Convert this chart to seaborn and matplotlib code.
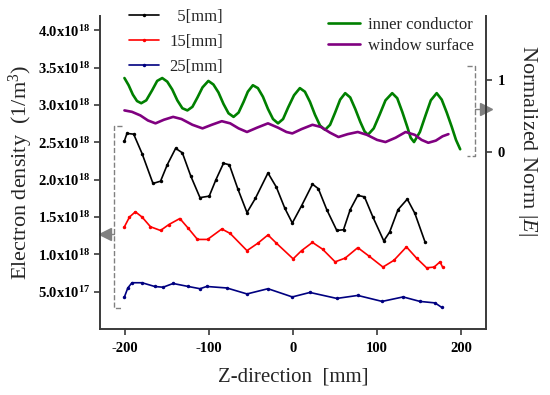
"""
Electron density and normalized |E| along the Z-direction.
"""

import matplotlib

matplotlib.use("Agg")
import matplotlib.pyplot as plt
import numpy as np
import pandas as pd
import seaborn as sns

# ---- data ----
# electron density, in units of 1e18 1/m^3
z_5mm = [-201, -198, -190, -180, -167, -158, -150, -140, -132, -122, -111, -100,
         -92, -83, -76, -66, -55, -45, -30, -20, -10, -1, 10, 23, 30, 40, 52, 60,
         68, 77, 85, 95, 108, 115, 125, 136, 145, 157]
ne_5mm = [2.52, 2.62, 2.61, 2.35, 1.95, 1.98, 2.20, 2.42, 2.36, 2.05, 1.76, 1.78,
          2.00, 2.22, 2.20, 1.88, 1.56, 1.75, 2.09, 1.90, 1.62, 1.42, 1.65, 1.94,
          1.88, 1.60, 1.32, 1.33, 1.60, 1.79, 1.77, 1.50, 1.18, 1.30, 1.60, 1.74,
          1.55, 1.17]

z_15mm = [-201, -195, -188, -180, -170, -158, -148, -135, -125, -114, -102, -85,
          -75, -55, -42, -30, -20, 0, 10, 23, 35, 50, 62, 77, 90, 107, 120, 135,
          147, 159, 168, 175, 178]
ne_15mm = [1.37, 1.50, 1.57, 1.50, 1.37, 1.32, 1.40, 1.48, 1.35, 1.20, 1.20, 1.34,
           1.28, 1.05, 1.15, 1.26, 1.15, 0.94, 1.05, 1.16, 1.07, 0.90, 0.95, 1.09,
           0.98, 0.83, 0.92, 1.10, 0.95, 0.82, 0.83, 0.90, 0.83]

z_25mm = [-201, -197, -192, -180, -165, -155, -143, -125, -111, -103, -79, -55,
          -30, -1, 20, 52, 77, 106, 131, 151, 169, 177]
ne_25mm = [0.43, 0.55, 0.62, 0.62, 0.57, 0.56, 0.61, 0.57, 0.54, 0.57, 0.55, 0.47,
           0.54, 0.43, 0.49, 0.41, 0.45, 0.37, 0.43, 0.37, 0.35, 0.29]

# normalized |E|
z_inner = [-201, -196, -191, -186, -181, -175, -168, -162, -156, -150, -144, -138,
           -132, -126, -120, -114, -108, -101, -95, -89, -83, -77, -71, -65, -59,
           -54, -48, -42, -36, -30, -24, -18, -12, -6, 1, 8, 14, 20, 26, 32, 38,
           44, 50, 56, 62, 68, 74, 80, 85, 89, 96, 103, 110, 118, 124, 130, 136,
           140, 144, 151, 158, 164, 171, 177, 183, 189, 194, 199]
e_inner = [1.03, 0.93, 0.80, 0.71, 0.68, 0.72, 0.86, 0.99, 1.03, 0.98, 0.87, 0.72,
           0.61, 0.58, 0.63, 0.76, 0.90, 0.99, 0.94, 0.83, 0.67, 0.54, 0.49, 0.55,
           0.70, 0.84, 0.93, 0.89, 0.77, 0.60, 0.46, 0.40, 0.46, 0.62, 0.79, 0.89,
           0.84, 0.70, 0.52, 0.37, 0.31, 0.38, 0.55, 0.73, 0.82, 0.76, 0.60, 0.42,
           0.29, 0.24, 0.33, 0.52, 0.72, 0.82, 0.75, 0.56, 0.35, 0.20, 0.14, 0.28,
           0.52, 0.72, 0.82, 0.73, 0.55, 0.35, 0.17, 0.04]

z_window = [-201, -192, -182, -173, -164, -154, -143, -133, -120, -108, -97, -85,
            -75, -65, -55, -43, -30, -18, -8, -1, 10, 23, 33, 44, 54, 65, 77, 88,
            100, 110, 122, 134, 145, 153, 161, 170, 178, 185]
e_window = [0.58, 0.56, 0.51, 0.44, 0.40, 0.45, 0.49, 0.46, 0.38, 0.33, 0.38, 0.43,
            0.40, 0.33, 0.28, 0.34, 0.40, 0.34, 0.28, 0.26, 0.32, 0.38, 0.35, 0.27,
            0.21, 0.25, 0.28, 0.24, 0.17, 0.14, 0.20, 0.28, 0.24, 0.17, 0.13, 0.16,
            0.22, 0.25]

density_labels = ["  5[mm]", "15[mm]", "25[mm]"]
norm_labels = ["inner conductor", "window surface"]
density_ticks = [0.5, 1.0, 1.5, 2.0, 2.5, 3.0, 3.5, 4.0]
norm_ticks = [0, 1]
z_ticks = [-200, -100, 0, 100, 200]
SCALE = 1e18


def density_label(v):
    """4.0x10^18 style tick text"""
    val = v * SCALE
    exp = int(np.floor(np.log10(val)))
    mant = val / 10 ** exp
    return f"{mant:.1f}x10" + r"$^{\mathbf{" + str(exp) + "}}$"


def setup_plotting():
    sns.set_style("ticks")
    plt.rcParams["font.family"] = ["Liberation Serif", "DejaVu Serif"]
    plt.rcParams["mathtext.fontset"] = "custom"
    plt.rcParams["mathtext.rm"] = "Liberation Serif"
    plt.rcParams["mathtext.it"] = "Liberation Serif:italic"
    plt.rcParams["mathtext.bf"] = "Liberation Serif:bold"
    plt.rcParams["axes.edgecolor"] = "#3a3a3a"
    plt.rcParams["axes.linewidth"] = 1.4
    plt.rcParams["xtick.color"] = "#3a3a3a"
    plt.rcParams["ytick.color"] = "#3a3a3a"
    plt.rcParams["xtick.labelcolor"] = "black"
    plt.rcParams["ytick.labelcolor"] = "black"


def main():
    setup_plotting()

    dens = pd.concat([
        pd.DataFrame({"z": z_5mm, "ne": np.array(ne_5mm) * SCALE, "pos": density_labels[0]}),
        pd.DataFrame({"z": z_15mm, "ne": np.array(ne_15mm) * SCALE, "pos": density_labels[1]}),
        pd.DataFrame({"z": z_25mm, "ne": np.array(ne_25mm) * SCALE, "pos": density_labels[2]}),
    ])
    norm = pd.concat([
        pd.DataFrame({"z": z_inner, "E": e_inner, "where": norm_labels[0]}),
        pd.DataFrame({"z": z_window, "E": e_window, "where": norm_labels[1]}),
    ])

    fig = plt.figure(figsize=(5.5, 3.95), dpi=100)
    ax = fig.add_axes([0.182, 0.167, 0.702, 0.792])
    ax2 = ax.twinx()

    sns.lineplot(data=dens, x="z", y="ne", hue="pos", ax=ax, sort=False,
                 palette=["black", "#ff0000", "#000080"], marker="o",
                 markersize=2.5, markeredgewidth=0, linewidth=1.2)
    sns.lineplot(data=norm, x="z", y="E", hue="where", ax=ax2, sort=False,
                 palette=["#008000", "#800080"], linewidth=1.9)

    ax.set_xlim(-230, 230)
    ax.set_ylim(0, 4.19 * SCALE)
    ax2.set_ylim(-2.46, 1.89)

    ax.set_xticks(z_ticks)
    ax.set_xticklabels([str(t) for t in z_ticks], fontweight="bold", fontsize=10.5)
    ax.set_yticks([t * SCALE for t in density_ticks])
    ax.set_yticklabels([density_label(t) for t in density_ticks],
                       fontweight="bold", fontsize=10.5)
    ax2.set_yticks(norm_ticks)
    ax2.set_yticklabels([str(t) for t in norm_ticks], fontweight="bold", fontsize=10.5)
    ax.tick_params(axis="y", length=4, width=1.2, pad=3)
    ax.tick_params(axis="x", length=4, width=1.2, pad=5)
    ax2.tick_params(length=4, width=1.2, pad=4)

    ax.set_xlabel("Z-direction  [mm]", fontsize=15, labelpad=9)
    ax.set_ylabel(r"Electron density  (1/m$^3$)", fontsize=16, labelpad=2)
    ax2.set_ylabel(r"Normalized Norm $|E|$", fontsize=16, rotation=270,
                   va="center", ha="center")
    ax2.yaxis.set_label_coords(1.106, 0.604)

    for a in (ax, ax2):
        a.spines["top"].set_visible(False)
    ax.spines["right"].set_visible(False)
    ax2.spines["left"].set_visible(False)
    ax2.spines["bottom"].set_visible(False)

    # dashed brackets with arrows telling which axis a group belongs to
    gray = "#808080"
    tr = ax.transAxes
    ax.plot([0.057, 0.036, 0.036, 0.057], [0.649, 0.649, 0.067, 0.067], ls="--",
            lw=1, color=gray, transform=tr, clip_on=False)
    ax.plot([0.016, 0.036], [0.304, 0.304], lw=1, color=gray, transform=tr, clip_on=False)
    ax.plot([0.012], [0.304], marker="<", ms=8, color=gray, transform=tr, clip_on=False)
    tr2 = ax2.transAxes
    ax2.plot([0.951, 0.972, 0.972, 0.951], [0.840, 0.840, 0.553, 0.553], ls="--",
             lw=1, color=gray, transform=tr2, clip_on=False)
    ax2.plot([0.972, 0.99], [0.703, 0.703], lw=1, color=gray, transform=tr2, clip_on=False)
    ax2.plot([1.0], [0.703], marker=">", ms=8, color=gray, transform=tr2, clip_on=False)

    leg1 = ax.legend(loc="upper left", bbox_to_anchor=(0.075, 1.022), frameon=False,
                     fontsize=12, handlelength=1.8, handletextpad=0.6,
                     labelspacing=0.52, borderpad=0, borderaxespad=0, numpoints=1)
    for h in leg1.get_lines():
        h.set_linewidth(1.2)
    leg2 = ax2.legend(loc="upper left", bbox_to_anchor=(0.591, 0.997), frameon=False,
                      fontsize=12, handlelength=1.9, handletextpad=0.5,
                      labelspacing=0.28, borderpad=0, borderaxespad=0)
    for h in leg2.get_lines():
        h.set_linewidth(1.9)

    fig.savefig("out.png", dpi=100)
    plt.close(fig)


if __name__ == "__main__":
    main()
